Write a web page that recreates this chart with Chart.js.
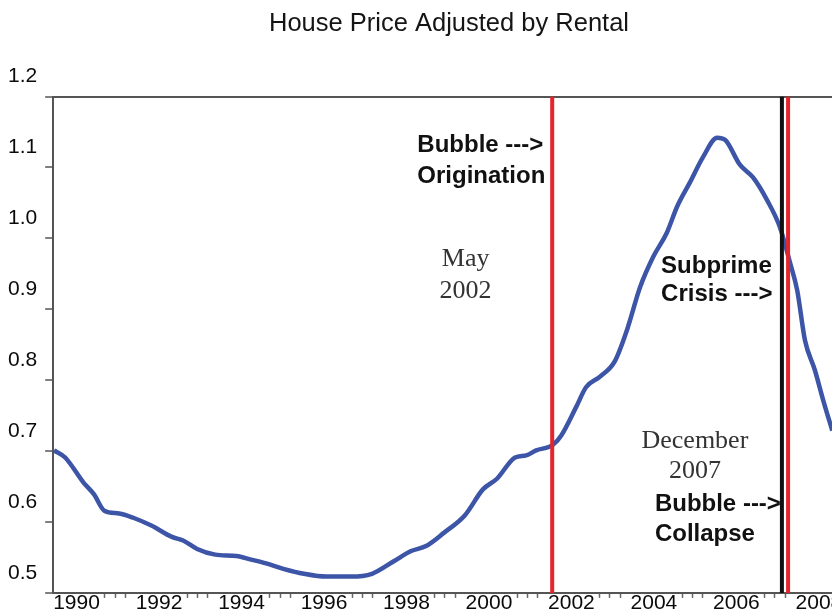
<!DOCTYPE html>
<html>
<head>
<meta charset="utf-8">
<script src="https://cdn.jsdelivr.net/npm/chart.js@4.4.1/dist/chart.umd.min.js"></script>
<style>
  html, body { margin: 0; padding: 0; background: #fff; }
  #wrap { width: 832px; height: 613px; overflow: hidden; position: relative; }
  canvas { display: block; }
</style>
</head>
<body>
<div id="wrap"><canvas id="chart_one" width="898" height="613"></canvas></div>
<script>
const years = [1990.02, 1990.29, 1990.73, 1990.99, 1991.24, 1991.6, 1991.94, 1992.38, 1992.88, 1993.15,
  1993.49, 1993.93, 1994.44, 1994.8, 1995.14, 1995.58, 1996.08, 1996.62, 1997.22, 1997.73,
  1998.27, 1998.68, 1999.04, 1999.48, 1999.99, 2000.42, 2000.76, 2001.2, 2001.47, 2001.71,
  2002.12, 2002.32, 2002.68, 2002.92, 2003.26, 2003.62, 2003.92, 2004.23, 2004.55, 2004.88,
  2005.13, 2005.44, 2005.76, 2006.1, 2006.29, 2006.65, 2006.97, 2007.31, 2007.62, 2007.87,
  2008.04, 2008.23, 2008.47, 2008.67, 2008.89];
const priceToRent = [0.701, 0.691, 0.656, 0.639, 0.616, 0.612, 0.606, 0.595, 0.579, 0.574,
  0.562, 0.554, 0.552, 0.547, 0.542, 0.534, 0.527, 0.523, 0.523, 0.527,
  0.545, 0.559, 0.566, 0.585, 0.61, 0.646, 0.661, 0.691, 0.694, 0.701,
  0.709, 0.722, 0.762, 0.79, 0.805, 0.827, 0.872, 0.931, 0.974, 1.008,
  1.045, 1.079, 1.115, 1.142, 1.139, 1.104, 1.086, 1.054, 1.016, 0.965,
  0.927, 0.856, 0.814, 0.772, 0.729];
const eventYears = [2002.1, 2007.67, 2007.82];
const yearLabels = [1990, 1992, 1994, 1996, 1998, 2000, 2002, 2004, 2006, 2008];
const valueTicks = [0.5, 0.6, 0.7, 0.8, 0.9, 1.0, 1.1, 1.2];

const sans = '"Liberation Sans", Arial, sans-serif';
const serif = '"Liberation Serif", "Times New Roman", serif';
const eventColors = ['#e4252b', '#111111', '#e4252b'];

const notes = [
  { lines: ['Bubble --->', 'Origination'], x: 1998.83, y: 1.122, gap: 31, align: 'left', font: 'bold 24px ' + sans, color: '#111' },
  { lines: ['May', '2002'], x: 2000.0, y: 0.961, gap: 32, align: 'center', font: '26px ' + serif, color: '#333' },
  { lines: ['Subprime', 'Crisis --->'], x: 2004.74, y: 0.951, gap: 28, align: 'left', font: 'bold 24px ' + sans, color: '#111' },
  { lines: ['December', '2007'], x: 2005.56, y: 0.705, gap: 30, align: 'center', font: '26px ' + serif, color: '#333' },
  { lines: ['Bubble --->', 'Collapse'], x: 2004.59, y: 0.616, gap: 30, align: 'left', font: 'bold 24px ' + sans, color: '#111' }
];

const notePlugin = {
  id: 'notes',
  afterDatasetsDraw(chart) {
    const c = chart.ctx;
    const xs = chart.scales.x, ys = chart.scales.y;
    c.save();
    notes.forEach(n => {
      c.font = n.font;
      c.fillStyle = n.color;
      c.textAlign = n.align;
      c.textBaseline = 'alphabetic';
      const px = xs.getPixelForValue(n.x);
      const py = ys.getPixelForValue(n.y);
      n.lines.forEach((t, i) => c.fillText(t, px, py + i * n.gap));
    });
    c.restore();
  }
};

const lineSets = eventYears.map((e, i) => ({
  data: [{ x: e, y: valueTicks[0] }, { x: e, y: valueTicks[valueTicks.length - 1] }],
  borderColor: eventColors[i],
  borderWidth: 4,
  pointRadius: 0
}));

const ctx = document.getElementById('chart_one');

new Chart(ctx, {
  type: 'line',
  data: {
    datasets: [...lineSets, {
      data: years.map((y, i) => ({ x: y, y: priceToRent[i] })),
      borderColor: '#3d55a6',
      borderWidth: 4.5,
      pointRadius: 0,
      tension: 0.35,
      cubicInterpolationMode: 'monotone'
    }]
  },
  options: {
    responsive: false,
    animation: false,
    devicePixelRatio: 1,
    layout: { padding: { left: 0, right: 0, top: 0, bottom: 4 } },
    plugins: {
      legend: { display: false },
      tooltip: { enabled: false },
      title: {
        display: true,
        text: 'House Price Adjusted by Rental',
        color: '#151515',
        font: { family: sans, size: 25.5, weight: 'normal' },
        padding: { top: 9, bottom: 57 }
      }
    },
    scales: {
      x: {
        type: 'linear',
        min: 1990,
        max: 2010,
        afterFit: s => { s.paddingLeft = 0; s.paddingRight = 20; },
        border: { color: '#555', width: 2 },
        grid: {
          drawOnChartArea: false,
          tickLength: 5,
          tickWidth: 1.5,
          tickColor: c => {
            const r = (((c.tick.value - 1990) % 2) + 2) % 2;
            return r > 1.1 ? '#666' : 'rgba(0,0,0,0)';
          }
        },
        ticks: {
          stepSize: 0.25,
          autoSkip: false,
          maxRotation: 0,
          align: 'start',
          padding: -6,
          color: '#0a0a0a',
          font: { family: sans, size: 21, lineHeight: 1.1 },
          callback: v => yearLabels.includes(v) ? String(v) : ''
        }
      },
      y: {
        min: valueTicks[0],
        max: valueTicks[valueTicks.length - 1],
        afterFit: s => { s.paddingTop = 0; s.paddingBottom = 0; },
        border: { color: '#555', width: 2 },
        grid: {
          lineWidth: 2,
          color: c => Math.abs(c.tick.value - 1.2) < 1e-6 ? '#555' : 'rgba(0,0,0,0)',
          tickLength: 8,
          tickWidth: 1.5,
          tickColor: '#555'
        },
        ticks: {
          stepSize: 0.1,
          padding: 8,
          labelOffset: -20,
          color: '#0a0a0a',
          font: { family: sans, size: 21 },
          callback: v => v.toFixed(1)
        }
      }
    }
  },
  plugins: [notePlugin]
});
</script>
</body>
</html>
